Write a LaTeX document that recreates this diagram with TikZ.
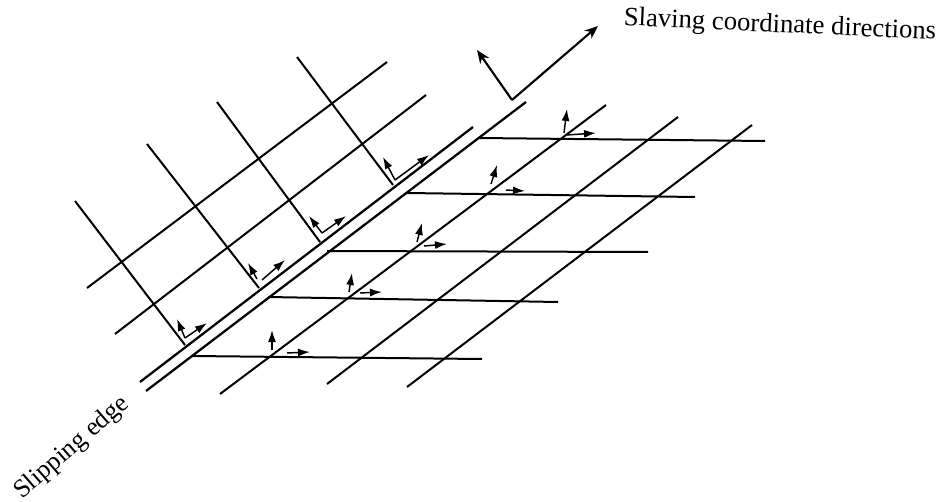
\documentclass[tikz,border=0pt]{standalone}
\usepackage{fontspec}
\setmainfont{Liberation Serif}
\usetikzlibrary{arrows.meta}
\tikzset{
  mesh/.style={line width=1.5pt},
  edgeline/.style={line width=1.7pt},
  bigdir/.style={line width=1.6pt,-{Stealth[length=10pt,width=8pt]}},
  smalldir/.style={line width=1.1pt,-{Latex[length=9pt,width=6pt]}}
}
\begin{document}
\begin{tikzpicture}[x=0.75pt,y=-0.75pt]
  \useasboundingbox (0,0) rectangle (948,502);
  % Slipping edge
  \draw[edgeline] (140,382) -- (473,127);
  \draw[edgeline] (146,391) -- (526,102);
  % Left mesh
  \foreach \xa/\ya/\xb/\yb in {75/201/185/345, 147/144/259/288, 217/102/320/242, 297/57/393/185,
      87/288/387/62, 115/334/426/95}
    \draw[mesh] (\xa,\ya) -- (\xb,\yb);
  % Right mesh
  \foreach \xa/\ya/\xb/\yb in {192/356/482/359, 268/297/558/302, 327/251/648/252, 407/193/695/197, 479/138/765/141,
      220/394/606/105, 327/384/678/117, 407/387/752/125}
    \draw[mesh] (\xa,\ya) -- (\xb,\yb);
  % Slaving directions
  \draw[bigdir] (512,100) -- (598,26);
  \draw[bigdir] (512,100) -- (477,50);
  % Arrows on the left
  \foreach \xa/\ya/\xb/\yb/\xc/\yc in {185/338/177/319/207/323, 322/233/309/216/346/216, 395/180/383/157/429/155}{
    \draw[smalldir] (\xa,\ya) -- (\xb,\yb);
    \draw[smalldir] (\xa,\ya) -- (\xc,\yc);
  }
  \draw[smalldir] (257,279) -- (248,263);
  \draw[smalldir] (262,280) -- (285,260);
  % Arrows on the right
  \foreach \xa/\ya/\xb/\yb/\xc/\yc/\xd/\yd in {272/350/272/330/287/353/310/352, 349/292/352/273/360/293/382/292,
      417/242/422/223/424/246/447/244, 491/184/497/165/506/190/525/191, 564/133/567/109/567/135/596/133}{
    \draw[smalldir] (\xa,\ya) -- (\xb,\yb);
    \draw[smalldir] (\xc,\yc) -- (\xd,\yd);
  }
  % Labels
  \node[rotate=-2.6,font=\fontsize{20}{22}\selectfont] (dirlabel) at (780,26) {Slaving coordinate directions};
  \node[rotate=41,font=\fontsize{19.4}{22}\selectfont] (edgelabel) at (72,448) {Slipping edge};
\end{tikzpicture}
\end{document}
